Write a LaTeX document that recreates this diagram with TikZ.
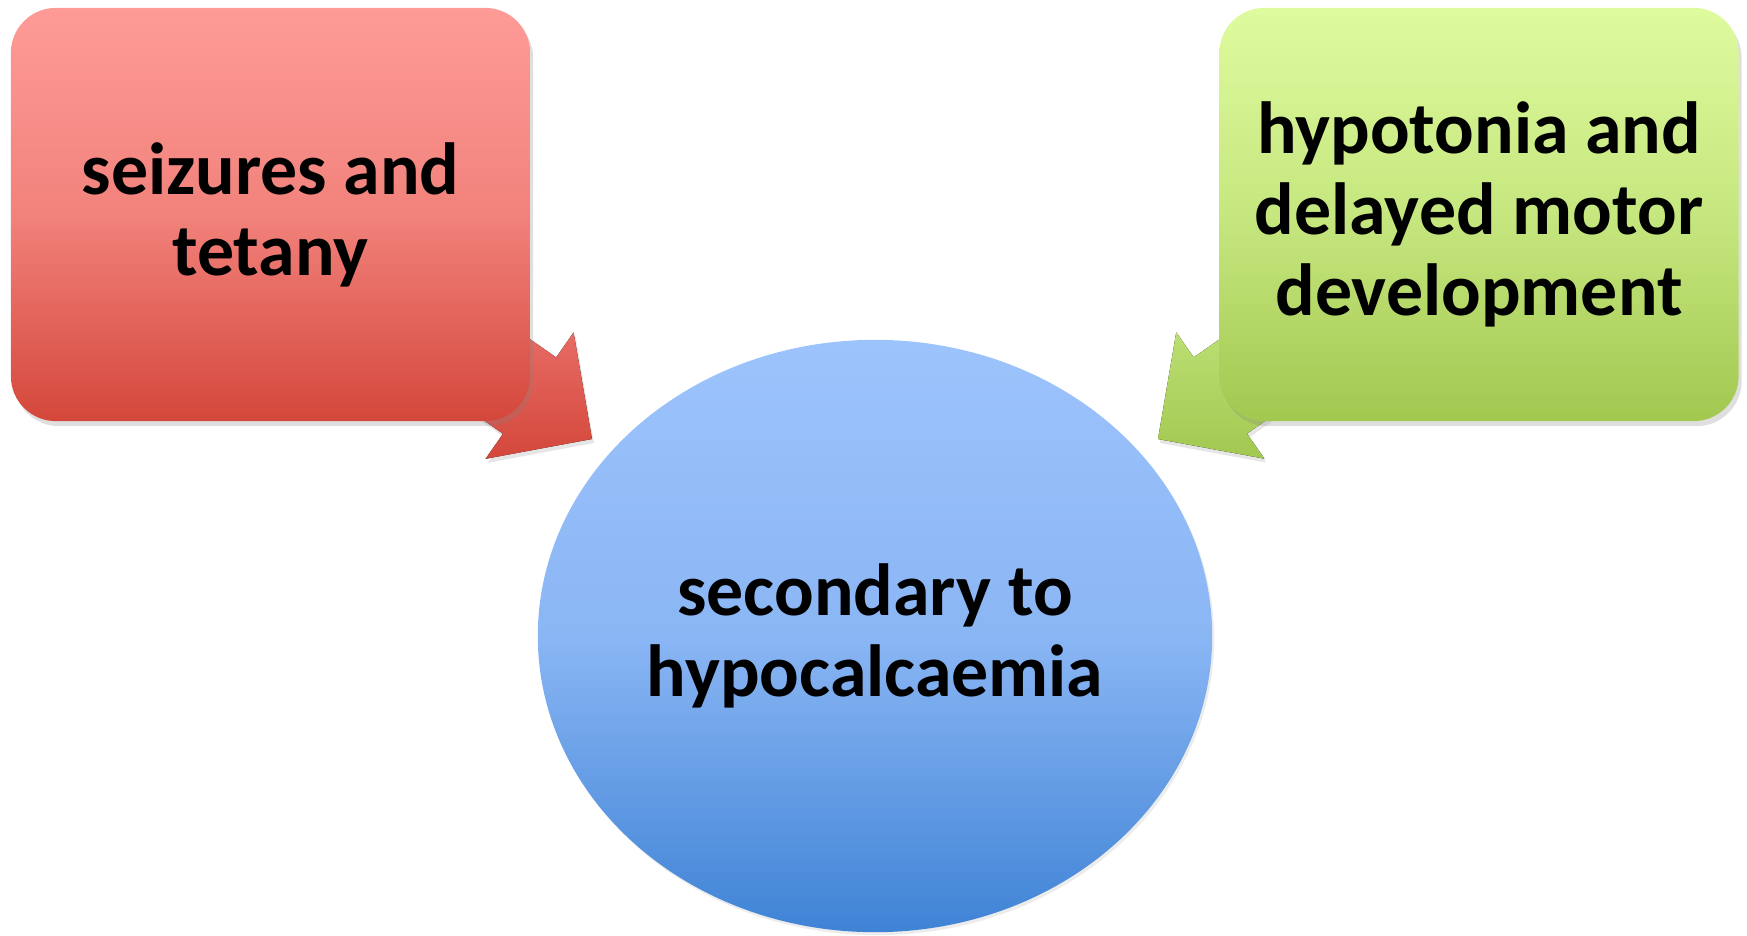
\documentclass[tikz,border=0pt]{standalone}
\usepackage{fontspec}
\setmainfont{Carlito}
\usepackage{tikz}
\usetikzlibrary{calc,shapes.geometric,shadows,backgrounds}
\definecolor{redtop}{HTML}{FE9B97}
\definecolor{redbot}{HTML}{D4473B}
\definecolor{greentop}{HTML}{DEFB9E}
\definecolor{greenbot}{HTML}{A2C850}
\definecolor{bluetop}{HTML}{9DC3FC}
\definecolor{bluebot}{HTML}{3F83D5}
\definecolor{redarrow}{HTML}{EE7873}
\definecolor{greenarrow}{HTML}{C5E67F}

% block arrow from tail #1 to tip #2
\newcommand{\blockarrow}[3]{%
  \coordinate (#1base) at ($(#2)!0.76cm!(#1)$);
  \fill[#3] ($(#1)!0.465cm!90:(#2)$) -- ($(#1base)!0.465cm!90:(#2)$)
    -- ($(#1base)!0.77cm!90:(#2)$) -- (#2)
    -- ($(#1base)!0.77cm!-90:(#2)$) -- ($(#1base)!0.465cm!-90:(#2)$)
    -- ($(#1)!0.465cm!-90:(#2)$) -- cycle;
}

\begin{document}
\begin{tikzpicture}[x=0.01cm, y=-0.01cm,
    box/.style={rectangle, rounded corners=0.45cm, minimum width=5.19cm,
      minimum height=4.13cm, align=center,
      font=\bfseries\fontsize{21}{23}\selectfont,
      drop shadow={shadow xshift=0.03cm, shadow yshift=-0.05cm, opacity=0.25}},
    arrowshade/.style={drop shadow={shadow xshift=0.02cm, shadow yshift=-0.04cm, opacity=0.2}}]
    \useasboundingbox (0,0) rectangle (1747,935);

    \node[box, top color=redtop, bottom color=redbot, middle color=redtop!70!redbot]
      (seizures) at (270.5,214.5) {seizures and\\tetany};
    \node[box, top color=greentop, bottom color=greenbot, middle color=greentop!60!greenbot]
      (hypotonia) at (1479,214.5) {hypotonia and\\delayed motor\\development};
    \node[ellipse, minimum width=6.74cm, minimum height=5.92cm, inner sep=0pt,
      top color=bluetop, bottom color=bluebot, middle color=bluetop!80!bluebot,
      align=center, font=\bfseries\fontsize{21}{23}\selectfont,
      drop shadow={shadow xshift=0.02cm, shadow yshift=-0.03cm, opacity=0.15}]
      (hypo) at (875,636) {secondary to\\hypocalcaemia};

    \coordinate (redtail) at ($(seizures.south east)+(-100,-95)$);
    \coordinate (redtip) at (592,439);
    \coordinate (greentail) at ($(hypotonia.south west)+(100,-95)$);
    \coordinate (greentip) at (1158,439);

    \begin{scope}[on background layer]
        \blockarrow{redtail}{redtip}{arrowshade, top color=redarrow, bottom color=redbot}
        \blockarrow{greentail}{greentip}{arrowshade, top color=greenarrow, bottom color=greenbot}
    \end{scope}
\end{tikzpicture}
\end{document}
